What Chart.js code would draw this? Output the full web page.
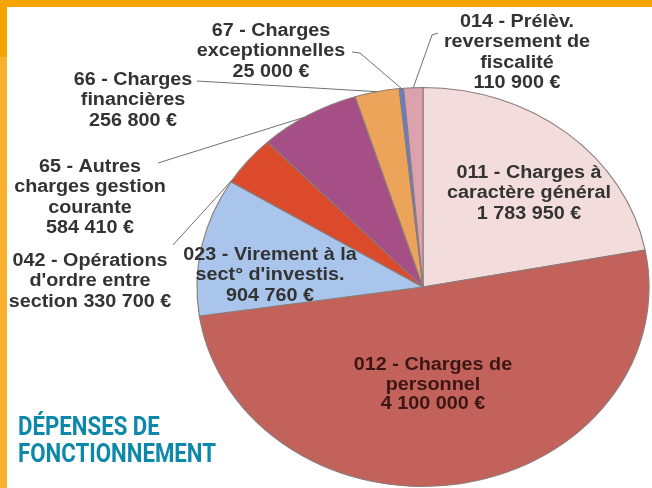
<!DOCTYPE html>
<html>
<head>
<meta charset="utf-8">
<script src="https://cdn.jsdelivr.net/npm/chart.js@4"></script>
<style>
  html, body { margin: 0; padding: 0; background: #fff; }
  #wrap { position: relative; width: 652px; height: 488px; overflow: hidden; }
  #barTop { position: absolute; left: 0; top: 0; width: 652px; height: 7px; background: #f5a400; }
  #barLeft { position: absolute; left: 0; top: 0; width: 7px; height: 488px;
    background: linear-gradient(#f5a400 0, #f5a400 57px, #f8b12e 57px, #f8b12e 100%); }
  canvas { position: absolute; left: 0; top: 0; }
</style>
</head>
<body>
<div id="wrap">
  <canvas id="graf" width="652" height="488"></canvas>
  <div id="barTop"></div>
  <div id="barLeft"></div>
</div>
<script>
// données
var categories = [
  '011 - Charges à caractère général',
  '012 - Charges de personnel',
  "023 - Virement à la sect° d'investis.",
  "042 - Opérations d'ordre entre section",
  '65 - Autres charges gestion courante',
  '66 - Charges financières',
  '67 - Charges exceptionnelles',
  '014 - Prélèv. reversement de fiscalité'
];
var values = [1783950, 4100000, 904760, 330700, 584410, 256800, 25000, 110900];
var nameLines = [
  ['011 - Charges à', 'caractère général'],
  ['012 - Charges de', 'personnel'],
  ['023 - Virement à la', "sect° d'investis."],
  ['042 - Opérations', "d'ordre entre", 'section'],
  ['65 - Autres', 'charges gestion', 'courante'],
  ['66 - Charges', 'financières'],
  ['67 - Charges', 'exceptionnelles'],
  ['014 - Prélèv.', 'reversement de', 'fiscalité']
];
var sliceColors = ['#f3dcdc', '#c3625a', '#a9c5ec', '#dc4a2c', '#a64f86', '#eca35a', '#5f7fcf', '#dba2ad'];

// mise en page des étiquettes (x centre, ligne de base de la 1re ligne)
var labelPos = [
  { x: 529, y: 178 },
  { x: 433, y: 370, step: 19.5, color: '#3c1614' },
  { x: 270, y: 260 },
  { x: 90, y: 266, inline: true },
  { x: 90, y: 172 },
  { x: 133, y: 85 },
  { x: 271, y: 36 },
  { x: 517, y: 27 }
];
var leaders = {
  3: { pts: [[173, 245]], t: 0.05 },
  4: { pts: [[158, 163]], t: 0.45 },
  5: { pts: [[197, 81]], t: 0.5 },
  6: { pts: [[352, 52], [360, 53]], t: 0.5 },
  7: { pts: [[438, 33], [432, 35]], t: 0.5 }
};
var SX = 1.133; // le camembert est étiré horizontalement

function euros(v) {
  return String(v).replace(/\B(?=(\d{3})+(?!\d))/g, ' ') + ' €';
}

var ellipse = {
  id: 'ellipse',
  beforeDatasetsDraw: function (chart) {
    var a = chart.getDatasetMeta(0).data[0];
    var ctx = chart.ctx;
    ctx.save();
    ctx.translate(a.x, a.y);
    ctx.scale(SX, 1);
    ctx.translate(-a.x, -a.y);
  },
  afterDatasetsDraw: function (chart) {
    chart.ctx.restore();
  }
};

var etiquettes = {
  id: 'etiquettes',
  afterDraw: function (chart) {
    var ctx = chart.ctx;
    var arcs = chart.getDatasetMeta(0).data;
    ctx.save();
    // traits de rappel
    ctx.strokeStyle = '#707070';
    ctx.lineWidth = 1;
    Object.keys(leaders).forEach(function (k) {
      var L = leaders[k];
      var arc = arcs[k];
      var ang = arc.startAngle + (arc.endAngle - arc.startAngle) * L.t;
      var r = arc.outerRadius;
      var ex = arc.x + Math.cos(ang) * r * SX;
      var ey = arc.y + Math.sin(ang) * r;
      ctx.beginPath();
      ctx.moveTo(L.pts[0][0], L.pts[0][1]);
      for (var i = 1; i < L.pts.length; i++) ctx.lineTo(L.pts[i][0], L.pts[i][1]);
      ctx.lineTo(ex, ey);
      ctx.stroke();
    });
    // textes
    ctx.font = 'bold 17.5px "Liberation Sans", Arial, sans-serif';
    ctx.textAlign = 'center';
    ctx.textBaseline = 'alphabetic';
    categories.forEach(function (c, i) {
      var p = labelPos[i];
      var lines = nameLines[i].slice();
      if (p.inline) lines[lines.length - 1] += ' ' + euros(values[i]);
      else lines.push(euros(values[i]));
      ctx.fillStyle = p.color || '#333333';
      var step = p.step || 20.3;
      lines.forEach(function (t, j) {
        ctx.save();
        ctx.translate(p.x, p.y + j * step);
        ctx.scale(1.13, 1);
        ctx.fillText(t, 0, 0);
        ctx.restore();
      });
    });
    // titre (police étroite : on ajuste la largeur)
    ctx.fillStyle = '#0e88aa';
    ctx.textAlign = 'left';
    ctx.font = 'bold 25px Roboto, "Liberation Sans", sans-serif';
    var k = 198 / ctx.measureText('FONCTIONNEMENT').width;
    [['DÉPENSES DE', 435], ['FONCTIONNEMENT', 462]].forEach(function (t) {
      ctx.save();
      ctx.translate(18, t[1]);
      ctx.scale(k, 1);
      ctx.fillText(t[0], 0, 0);
      ctx.restore();
    });
    ctx.restore();
  }
};

var ctx = document.getElementById('graf').getContext('2d');
var chart = new Chart(ctx, {
  type: 'pie',
  data: {
    labels: categories,
    datasets: [{
      data: values,
      backgroundColor: sliceColors,
      borderColor: '#8a7c7c',
      borderWidth: 1,
      clip: false
    }]
  },
  options: {
    responsive: false,
    animation: false,
    events: [],
    layout: { padding: { left: 223, right: 29, top: 87, bottom: 1 } },
    plugins: {
      legend: { display: false },
      tooltip: { enabled: false }
    }
  },
  plugins: [ellipse, etiquettes]
});
</script>
</body>
</html>
